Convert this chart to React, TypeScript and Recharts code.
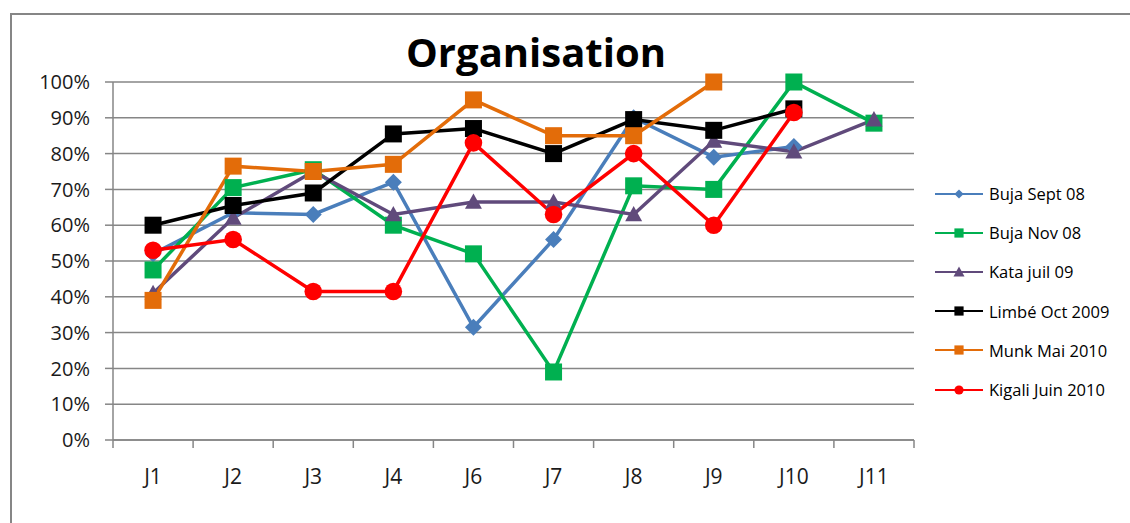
import React from 'react';
import { LineChart, Line, XAxis, YAxis, CartesianGrid } from 'recharts';

const categories = ['J1', 'J2', 'J3', 'J4', 'J6', 'J7', 'J8', 'J9', 'J10', 'J11'];
const bujaSept = [52, 63.5, 63, 72, 31.5, 56, 90, 79, 82, null];
const bujaNov = [47.5, 70.5, 75.5, 60, 52, 19, 71, 70, 100, 88.5];
const kataJuil = [41, 62, 75, 63, 66.5, 66.5, 63, 83.5, 80.5, 89.5];
const limbeOct = [60, 65.5, 69, 85.5, 87, 80, 89.5, 86.5, 92.5, null];
const munkMai = [39, 76.5, 75, 77, 95, 85, 85, 100, null, null];
const kigaliJuin = [53, 56, 41.5, 41.5, 83, 63, 80, 60, 91.5, null];
const yTicks = [0, 10, 20, 30, 40, 50, 60, 70, 80, 90, 100];

const seriesNames = ['Buja Sept 08', 'Buja Nov 08', 'Kata juil 09', 'Limbé Oct 2009', 'Munk Mai 2010', 'Kigali Juin 2010'];
const seriesValues = [bujaSept, bujaNov, kataJuil, limbeOct, munkMai, kigaliJuin];
const seriesKeys = ['s0', 's1', 's2', 's3', 's4', 's5'];
const seriesColors = ['#4A7EBB', '#00B050', '#604A7B', '#000000', '#E36C09', '#FF0000'];
const seriesShapes = ['diamond', 'square', 'triangle', 'square', 'square', 'circle'];

const data = categories.map((c, i) => {
  const row: any = { cat: c };
  seriesKeys.forEach((k, j) => {
    row[k] = seriesValues[j][i];
  });
  return row;
});

const FONT = '"Open Sans", "DejaVu Sans", sans-serif';

function MarkerShape({ shape, cx, cy, color, s }: any) {
  if (shape === 'diamond') {
    return <polygon points={`${cx},${cy - s} ${cx + s},${cy} ${cx},${cy + s} ${cx - s},${cy}`} fill={color} />;
  }
  if (shape === 'square') {
    return <rect x={cx - s} y={cy - s} width={2 * s} height={2 * s} fill={color} />;
  }
  if (shape === 'triangle') {
    return <polygon points={`${cx},${cy - s} ${cx + s},${cy + s * 0.8} ${cx - s},${cy + s * 0.8}`} fill={color} />;
  }
  return <circle cx={cx} cy={cy} r={s} fill={color} />;
}

const markerSize: any = { diamond: 8.5, square: 8.5, triangle: 8.5, circle: 8.8 };

const makeDot = (shape: string, color: string) => (props: any) => {
  const { cx, cy, index, value } = props;
  if (cx == null || cy == null || value == null || Number.isNaN(cy)) return <g key={`d${index}`} />;
  return (
    <g key={`d${index}`}>
      <MarkerShape shape={shape} cx={cx} cy={cy} color={color} s={markerSize[shape]} />
    </g>
  );
};

function CategoryTick(props: any) {
  const { x, y, payload, index, visibleTicksCount, width } = props;
  let half = payload && typeof payload.offset === 'number' && payload.offset > 0 ? payload.offset : 0;
  if (!half && width && visibleTicksCount) half = width / visibleTicksCount / 2;
  const last = visibleTicksCount ? index === visibleTicksCount - 1 : false;
  return (
    <g>
      <line x1={x - half} y1={y} x2={x - half} y2={y + 8} stroke="#868686" strokeWidth={1.5} />
      {last && <line x1={x + half} y1={y} x2={x + half} y2={y + 8} stroke="#868686" strokeWidth={1.5} />}
      <text x={x} y={y + 29} dy="0.71em" textAnchor="middle" fontFamily={FONT} fontSize={21} fill="#1a1a1a">
        {payload.value}
      </text>
    </g>
  );
}

function LegendBox() {
  return (
    <div style={{ position: 'absolute', left: 935, top: 174, width: 195, fontFamily: FONT, fontSize: 16.5, color: '#000' }}>
      {seriesNames.map((n, i) => (
        <div key={n} style={{ height: 39.2, display: 'flex', alignItems: 'center' }}>
          <svg width={48} height={20} style={{ marginRight: 6, flexShrink: 0 }}>
            <line x1={0} y1={10} x2={48} y2={10} stroke={seriesColors[i]} strokeWidth={2.2} />
            <MarkerShape shape={seriesShapes[i]} cx={24} cy={10} color={seriesColors[i]} s={seriesShapes[i] === 'triangle' ? 5.5 : 4.6} />
          </svg>
          <span style={{ whiteSpace: 'nowrap' }}>{n}</span>
        </div>
      ))}
    </div>
  );
}

export default function App() {
  return (
    <div style={{ position: 'absolute', left: 0, top: 0, width: 1130, height: 523, background: '#fff', overflow: 'hidden' }}>
      <div style={{ position: 'absolute', left: 10, top: 13, width: 1140, height: 530, border: '2px solid #868686', boxSizing: 'border-box' }} />
      <div style={{ position: 'absolute', left: 286, top: 32, width: 500, textAlign: 'center', fontFamily: FONT, fontWeight: 700, fontSize: 40, lineHeight: '40px', color: '#000' }}>
        Organisation
      </div>
      <div style={{ position: 'absolute', left: 0, top: 0 }}>
        <LineChart width={1130} height={523} data={data} margin={{ top: 82, right: 216, bottom: 43, left: 0 }}>
          <CartesianGrid horizontal vertical={false} stroke="#868686" strokeWidth={1.5} />
          <XAxis
            dataKey="cat"
            scale="band"
            height={40}
            tickLine={false}
            tickSize={0}
            tickMargin={0}
            axisLine={{ stroke: '#868686', strokeWidth: 1.5 }}
            tick={<CategoryTick />}
            interval={0}
          />
          <YAxis
            domain={[0, 100]}
            ticks={yTicks}
            width={113}
            tickSize={8}
            tickMargin={15}
            tickFormatter={(v: number) => `${v}%`}
            tick={{ fontFamily: FONT, fontSize: 20, fill: '#1a1a1a' }}
            tickLine={{ stroke: '#868686', strokeWidth: 1.5 }}
            axisLine={{ stroke: '#868686', strokeWidth: 1.5 }}
            interval={0}
          />
          <YAxis yAxisId="right" orientation="right" width={0} tick={false} tickLine={false} axisLine={{ stroke: '#555', strokeWidth: 1.5 }} domain={[0, 100]} />
          {seriesKeys.map((k, i) => (
            <Line
              key={k}
              dataKey={k}
              name={seriesNames[i]}
              stroke={seriesColors[i]}
              strokeWidth={3.5}
              dot={makeDot(seriesShapes[i], seriesColors[i])}
              activeDot={false}
              isAnimationActive={false}
              connectNulls={false}
            />
          ))}
        </LineChart>
      </div>
      <LegendBox />
    </div>
  );
}
